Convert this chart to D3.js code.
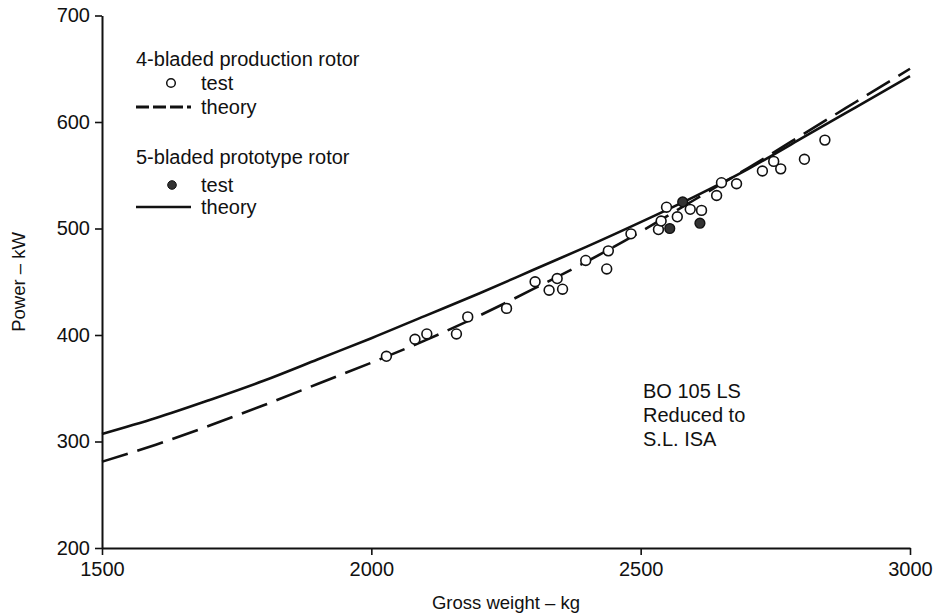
<!DOCTYPE html>
<html><head><meta charset="utf-8">
<script src="https://cdn.jsdelivr.net/npm/d3@7"></script>
<style>body{margin:0;background:#fff}svg{display:block}text{font-family:"Liberation Sans",Arial,sans-serif;fill:#111}</style>
</head><body><svg id="c" width="937" height="614"></svg>
<script>
// ---- data ----
const xTicks = [1500, 2000, 2500, 3000];
const yTicks = [200, 300, 400, 500, 600, 700];
const theoryWeights = [1500,1600,1700,1800,1900,2000,2100,2200,2300,2400,2500,2600,2700,2800,2900,3000];
const theory4 = [281,297,315,334,354,374,395,418,443,469,497,527,557,588,619,650];
const theory5 = [307,322,339,357,377,397,418,439,461,483,506,530,556,585,614,643];
const test4Weight = [2028,2081,2103,2158,2179,2251,2304,2330,2345,2355,2398,2437,2440,2482,2533,2538,2548,2568,2592,2613,2641,2650,2678,2726,2747,2760,2804,2842];
const test4Power  = [380,396,401,401,417,425,450,442,453,443,470,462,479,495,499,507,520,511,518,517,531,543,542,554,563,556,565,583];
const test5Weight = [2554,2578,2610];
const test5Power  = [500,525,505];
const noteLines = ["BO 105 LS","Reduced to","S.L. ISA"];

const FS = 20;
const svg = d3.select("#c");
const x = d3.scaleLinear().domain([1500,3000]).range([102,910]);
const y = d3.scaleLinear().domain([200,700]).range([548,15.5]);

// axes
const gx = svg.append("g").attr("transform","translate(0,548)")
  .call(d3.axisBottom(x).tickValues(xTicks).tickFormat(d3.format("d")).tickSize(7).tickSizeOuter(0));
const gy = svg.append("g").attr("transform","translate(102,0)")
  .call(d3.axisLeft(y).tickValues(yTicks).tickFormat(d3.format("d")).tickSize(7).tickSizeOuter(0));
[gx,gy].forEach(g=>{
  g.select(".domain").attr("stroke","#111").attr("stroke-width",2);
  g.selectAll(".tick line").attr("stroke","#111").attr("stroke-width",1.6);
  g.selectAll(".tick text").attr("font-size",FS).attr("font-family","Liberation Sans, Arial, sans-serif").attr("fill","#111");
});
gx.selectAll(".tick text").attr("dy","0.9em");
gy.selectAll(".tick text").attr("dx","-0.1em");

svg.append("text").attr("x",506).attr("y",609).attr("text-anchor","middle").attr("font-size",18.5).text("Gross weight – kg");
svg.append("text").attr("transform","translate(25,282) rotate(-90)").attr("text-anchor","middle").attr("font-size",18.5).text("Power – kW");

// theory lines
const line = d3.line().x((d,i)=>x(theoryWeights[i])).y(d=>y(d)).curve(d3.curveNatural);
svg.append("path").attr("d",line(theory5)).attr("fill","none").attr("stroke","#111").attr("stroke-width",2.6);
svg.append("path").attr("d",line(theory4)).attr("fill","none").attr("stroke","#111").attr("stroke-width",2.6).attr("stroke-dasharray","27,10");

// test points
svg.append("g").selectAll("circle").data(test4Weight).join("circle")
  .attr("cx",d=>x(d)).attr("cy",(d,i)=>y(test4Power[i])).attr("r",4.9)
  .attr("fill","#fff").attr("stroke","#111").attr("stroke-width",1.6);
svg.append("g").selectAll("circle").data(test5Weight).join("circle")
  .attr("cx",d=>x(d)).attr("cy",(d,i)=>y(test5Power[i])).attr("r",4.9)
  .attr("fill","#333").attr("stroke","#111").attr("stroke-width",1.4);

// legend
const lg = svg.append("g").attr("font-size",FS);
lg.append("text").attr("x",136).attr("y",66).text("4-bladed production rotor");
lg.append("circle").attr("cx",171).attr("cy",83).attr("r",4.3).attr("fill","#fff").attr("stroke","#111").attr("stroke-width",1.5);
lg.append("text").attr("x",201).attr("y",90).text("test");
lg.append("line").attr("x1",136).attr("x2",191).attr("y1",107).attr("y2",107).attr("stroke","#111").attr("stroke-width",2.8).attr("stroke-dasharray","13,4");
lg.append("text").attr("x",201).attr("y",114).text("theory");
lg.append("text").attr("x",136).attr("y",164).text("5-bladed prototype rotor");
lg.append("circle").attr("cx",172).attr("cy",185).attr("r",4.3).attr("fill","#333").attr("stroke","#111");
lg.append("text").attr("x",201).attr("y",192).text("test");
lg.append("line").attr("x1",136).attr("x2",191).attr("y1",207).attr("y2",207).attr("stroke","#111").attr("stroke-width",2.6);
lg.append("text").attr("x",201).attr("y",214).text("theory");

// note
svg.append("g").selectAll("text").data(noteLines).join("text")
  .attr("x",643).attr("y",(d,i)=>398+i*24).attr("font-size",FS).text(d=>d);
</script></body></html>
